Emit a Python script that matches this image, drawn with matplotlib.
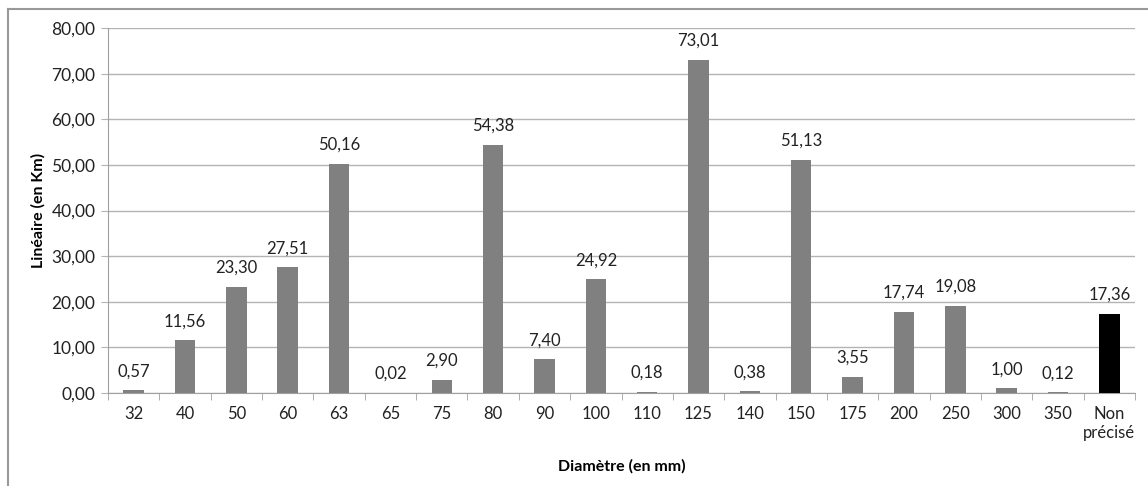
import matplotlib.pyplot as plt
from matplotlib.lines import Line2D

# Linéaire de réseau par diamètre
diametres = ["32", "40", "50", "60", "63", "65", "75", "80", "90", "100",
             "110", "125", "140", "150", "175", "200", "250", "300", "350",
             "Non\nprécisé"]
lineaire_km = [0.57, 11.56, 23.30, 27.51, 50.16, 0.02, 2.90, 54.38, 7.40, 24.92,
               0.18, 73.01, 0.38, 51.13, 3.55, 17.74, 19.08, 1.00, 0.12, 17.36]

plt.rcParams['font.family'] = ['Lato', 'DejaVu Sans']
plt.rcParams['font.size'] = 12

fig = plt.figure(figsize=(11.48, 4.86), dpi=100)
ax = fig.add_axes([108 / 1148, 1 - 393 / 486, (1135 - 108) / 1148, (393 - 28) / 486])

colors = ['#808080'] * (len(diametres) - 1) + ['#000000']
x = range(len(diametres))
ax.bar(x, lineaire_km, width=0.4, color=colors, zorder=3)

for xi, v in zip(x, lineaire_km):
    ax.annotate(f"{v:.2f}".replace('.', ','), (xi, v), xytext=(0, 8),
                textcoords='offset points', ha='center', va='bottom',
                fontsize=12, color='#222222')

ax.set_xlim(-0.5, len(diametres) - 0.5)
ax.set_ylim(0, 80)
ax.set_yticks(range(0, 81, 10))
ax.set_yticklabels([f"{t},00" for t in range(0, 81, 10)])
ax.yaxis.grid(True, color='#b4b4b4', linewidth=1, zorder=0)

ax.set_xticks(list(x))
ax.set_xticklabels(diametres, linespacing=1.3)
ax.tick_params(axis='x', length=0, pad=9, labelsize=12, colors='#222222')
ax.set_xticks([i + 0.5 for i in range(-1, len(diametres))], minor=True)
ax.tick_params(axis='x', which='minor', length=5, color='#a0a0a0', direction='out')
ax.tick_params(axis='y', length=5, color='#b4b4b4', labelsize=12.5, labelcolor='#222222', pad=4)

for side in ['top', 'right']:
    ax.spines[side].set_visible(False)
for side in ['left', 'bottom']:
    ax.spines[side].set_color('#a0a0a0')

ax.set_ylabel("Linéaire (en Km)", fontweight='bold', fontsize=11.5, labelpad=4)
ax.set_xlabel("Diamètre (en mm)", fontweight='bold', fontsize=11.5, labelpad=13)

# cadre du graphique (bords gauche et haut)
fig.add_artist(Line2D([7.5 / 1148, 7.5 / 1148], [0, 1 - 9 / 486], color='#999999', lw=1.5))
fig.add_artist(Line2D([7.5 / 1148, 1], [1 - 9 / 486, 1 - 9 / 486], color='#999999', lw=1.5))

fig.savefig("out.png", dpi=100)
